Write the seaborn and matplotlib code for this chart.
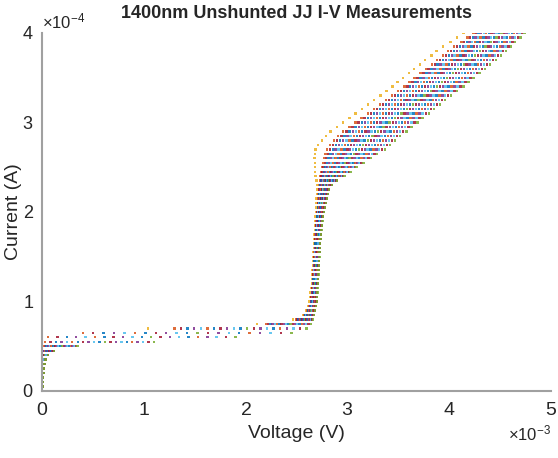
import matplotlib
matplotlib.use('Agg')
import matplotlib.pyplot as plt
from matplotlib.ticker import ScalarFormatter
import numpy as np
import pandas as pd
import seaborn as sns

# current sweep levels (uA) shared by every measured curve
current_uA = [0, 5, 10, 15, 20, 25, 30, 35, 40, 45,
              50, 55, 60, 65, 70, 75, 80, 85, 90, 95,
              100, 105, 110, 115, 120, 125, 130, 135, 140, 145,
              150, 155, 160, 165, 170, 175, 180, 185, 190, 195,
              200, 205, 210, 215, 220, 225, 230, 235, 240, 245,
              250, 255, 260, 265, 270, 275, 280, 285, 290, 295,
              300, 305, 310, 315, 320, 325, 330, 335, 340, 345,
              350, 355, 360, 365, 370, 375, 380, 385, 390, 395, 400]

# left / right edge of the band of curves at each current level (mV)
v_left_mV = [0.000, 0.000, 0.000, 0.000, 0.000, 0.002, 0.003, 0.004, 0.005, 0.008,
             0.010, 0.030, 0.060, 0.400, 1.300, 2.200, 2.500, 2.580, 2.610, 2.630,
             2.640, 2.645, 2.650, 2.655, 2.660, 2.662, 2.665, 2.668, 2.670, 2.672,
             2.675, 2.678, 2.680, 2.683, 2.686, 2.689, 2.692, 2.695, 2.698, 2.700,
             2.705, 2.710, 2.712, 2.715, 2.718, 2.720, 2.725, 2.730, 2.735, 2.740,
             2.750, 2.760, 2.770, 2.785, 2.800, 2.830, 2.870, 2.910, 2.960, 3.020,
             3.080, 3.140, 3.200, 3.260, 3.320, 3.380, 3.440, 3.500, 3.560, 3.610,
             3.660, 3.720, 3.770, 3.830, 3.880, 3.940, 3.990, 4.050, 4.120, 4.180, 4.240]
v_right_mV = [0.005, 0.008, 0.010, 0.012, 0.015, 0.020, 0.025, 0.035, 0.060, 0.120,
              0.350, 1.100, 1.900, 2.450, 2.600, 2.640, 2.660, 2.670, 2.680, 2.690,
              2.700, 2.700, 2.705, 2.705, 2.710, 2.712, 2.715, 2.718, 2.720, 2.722,
              2.725, 2.728, 2.730, 2.733, 2.737, 2.741, 2.745, 2.750, 2.755, 2.760,
              2.770, 2.780, 2.790, 2.800, 2.810, 2.820, 2.850, 2.900, 2.970, 3.030,
              3.090, 3.160, 3.230, 3.290, 3.370, 3.420, 3.470, 3.520, 3.580, 3.630,
              3.690, 3.740, 3.800, 3.850, 3.910, 3.960, 4.020, 4.080, 4.140, 4.190,
              4.240, 4.300, 4.350, 4.400, 4.460, 4.510, 4.560, 4.610, 4.650, 4.700, 4.740]

# where each curve sits inside the band (0 = left edge, 1 = right edge)
curve_pos = [-0.20, 0.00, 0.05, 0.10, 0.15, 0.20, 0.25, 0.30, 0.35, 0.40, 0.45,
             0.50, 0.55, 0.60, 0.65, 0.70, 0.75, 0.80, 0.85, 0.90, 0.95, 1.00]
curve_color = ['#EDB120', '#D95319', '#A2142F', '#0072BD', '#7E2F8E', '#4DBEEE',
               '#D95319', '#0072BD', '#A2142F', '#7E2F8E', '#4DBEEE', '#0072BD',
               '#77AC30', '#A2142F', '#7E2F8E', '#4DBEEE', '#0072BD', '#D95319',
               '#7E2F8E', '#4DBEEE', '#A2142F', '#77AC30']

sns.set_style('white')
plt.rcParams['font.family'] = ['Liberation Sans', 'DejaVu Sans']
plt.rcParams['mathtext.fontset'] = 'custom'
plt.rcParams['mathtext.rm'] = 'Liberation Sans'

I_arr = np.array(current_uA)
L = np.array(v_left_mV)
R = np.array(v_right_mV)
frames = []
for i, p in enumerate(curve_pos):
    v = np.clip(L + p * (R - L), 0, None)
    frames.append(pd.DataFrame({'V': v * 1e-3, 'I': I_arr * 1e-6, 'curve': i}))
df = pd.concat(frames, ignore_index=True)

fig = plt.figure(figsize=(5.58, 4.58), dpi=100)
ax = fig.add_axes([0.0753, 0.1463, 0.912, 0.7817])
sns.scatterplot(data=df, x='V', y='I', hue='curve', palette=curve_color,
                marker='s', s=3, linewidth=0, alpha=0.85, legend=False, ax=ax)

ax.set_xlim(0, 5e-3)
ax.set_ylim(0, 4e-4)
ax.set_xticks([0, 1e-3, 2e-3, 3e-3, 4e-3, 5e-3])
ax.set_yticks([0, 1e-4, 2e-4, 3e-4, 4e-4])
for a in (ax.xaxis, ax.yaxis):
    fmt = ScalarFormatter(useMathText=True)
    fmt.set_powerlimits((0, 0))
    a.set_major_formatter(fmt)
ax.tick_params(direction='in', length=5, width=1, color='#a0a0a0',
               labelcolor='#262626', labelsize=13, pad=6)
ax.tick_params(axis='x', labelsize=14, pad=8)
ax.xaxis.get_offset_text().set_fontsize(12)
ax.yaxis.get_offset_text().set_fontsize(12)
for s in ['top', 'right']:
    ax.spines[s].set_visible(False)
for s in ['left', 'bottom']:
    ax.spines[s].set_color('#a0a0a0')
    ax.spines[s].set_linewidth(1.5)

ax.set_xlabel('Voltage (V)', fontsize=14, color='#262626')
ax.set_ylabel('Current (A)', fontsize=14, color='#262626')
ax.xaxis.set_label_coords(0.5, -0.095)
ax.yaxis.set_label_coords(-0.04, 0.5)
ax.set_title('1400nm Unshunted JJ I-V Measurements', fontsize=13,
             fontweight='bold', pad=11)

fig.savefig('out.png', dpi=100)
